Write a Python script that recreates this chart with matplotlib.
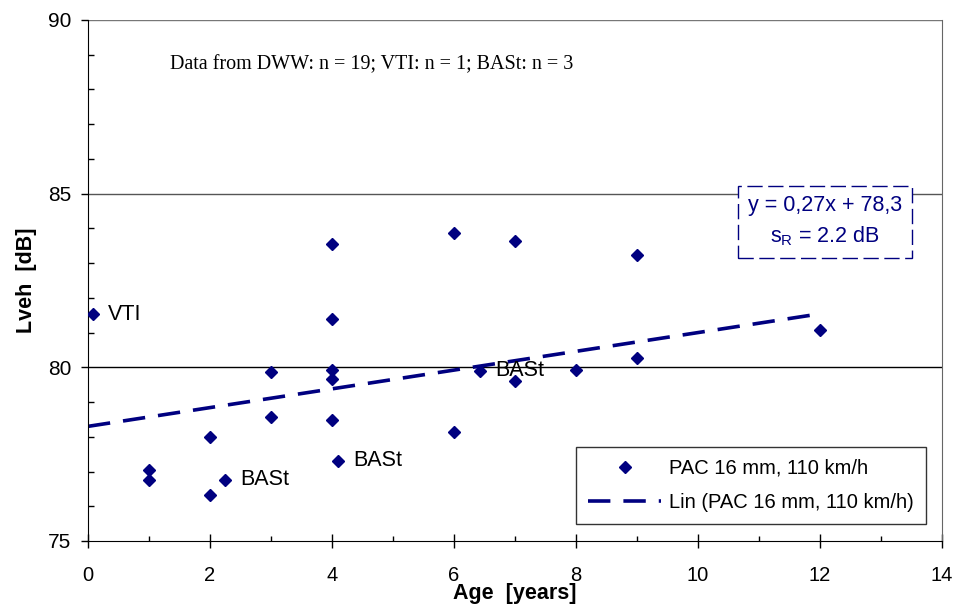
import numpy as np
import matplotlib.pyplot as plt
from matplotlib.ticker import MultipleLocator

## Data ##
age = [0.08, 1, 1, 2, 2, 2.25, 3, 3, 4, 4, 4, 4, 4, 4.1,
       6, 6, 6.43, 7, 7, 8, 9, 9, 12]
lveh = [81.53, 77.04, 76.75, 78.0, 76.32, 76.76, 79.86, 78.58, 83.54, 81.38,
        79.92, 79.66, 78.48, 77.31, 83.88, 78.15, 79.9, 83.63, 79.6, 79.92,
        83.23, 80.27, 81.08]

# labelled points: (text, x, y)
labels = [("VTI", 0.08, 81.53), ("BASt", 2.25, 76.76),
          ("BASt", 4.1, 77.31), ("BASt", 6.43, 79.9)]

# linear trend y = 0,27x + 78,3
slope = 0.27
intercept = 78.3
fit_x = np.array([0, 12])

navy = '#000080'
plt.rcParams['font.family'] = ['Liberation Sans', 'DejaVu Sans']

fig = plt.figure(figsize=(9.63, 6.09), dpi=100)
ax = fig.add_axes([0.0914, 0.1117, 0.8868, 0.8555])

# horizontal gridlines at the major ticks
ax.axhline(80, color='black', lw=1.0, zorder=1)
ax.axhline(85, color='#555555', lw=1.0, zorder=1)
ax.axhline(90, color='#777777', lw=1.0, zorder=1)

ax.plot(age, lveh, linestyle='none', marker='D', ms=6.5, color=navy,
        label='PAC 16 mm, 110 km/h', zorder=3)
ax.plot(fit_x, slope * fit_x + intercept, color=navy, lw=2.6,
        dashes=(6.2, 3.6), label='Lin (PAC 16 mm, 110 km/h)', zorder=2)

for txt, xx, yy in labels:
    ax.text(xx + 0.24, yy, txt, fontsize=15.5, va='center', ha='left')

ax.set_xlim(0, 14)
ax.set_ylim(75, 90)
ax.xaxis.set_major_locator(MultipleLocator(2))
ax.xaxis.set_minor_locator(MultipleLocator(1))
ax.yaxis.set_major_locator(MultipleLocator(5))
ax.yaxis.set_minor_locator(MultipleLocator(1))
ax.tick_params(axis='x', which='major', direction='inout', length=9.5, width=1,
               labelsize=14.5, pad=13)
ax.tick_params(axis='x', which='minor', direction='in', length=3.5, width=1)
ax.tick_params(axis='y', which='major', direction='out', length=5, width=1,
               labelsize=15, pad=7)
ax.tick_params(axis='y', which='minor', direction='in', length=4.5, width=1)

ax.spines['left'].set_color('black')
ax.spines['bottom'].set_color('black')
ax.spines['right'].set_color('#666666')
ax.spines['top'].set_visible(False)

ax.set_xlabel('Age  [years]', fontsize=15.5, fontweight='bold', labelpad=-1)
ax.set_ylabel('Lveh  [dB]', fontsize=15.5, fontweight='bold', labelpad=8)

ax.text(1.35, 88.7, 'Data from DWW: n = 19; VTI: n = 1; BASt: n = 3',
        family=['Liberation Serif', 'DejaVu Serif'], fontsize=14.5,
        va='center')

# equation box with dashed border
ax.text(12.08, 84.2, 'y = 0,27x + 78,3\n$\\mathregular{s_R}$ = 2.2 dB',
        fontsize=15.5, color=navy, ha='center', va='center', linespacing=1.5,
        bbox=dict(boxstyle='square,pad=0.45', fc='white', ec=navy, lw=1.0,
                  ls=(0, (11, 4))), zorder=4)

leg = ax.legend(loc='lower right', bbox_to_anchor=(0.981, 0.033), fontsize=14.5,
                frameon=True, fancybox=False, edgecolor='black',
                handlelength=3.6, handletextpad=0.4, borderpad=0.6,
                borderaxespad=0, labelspacing=0.75)
leg.get_frame().set_linewidth(1.0)

fig.savefig('out.png', dpi=100)
